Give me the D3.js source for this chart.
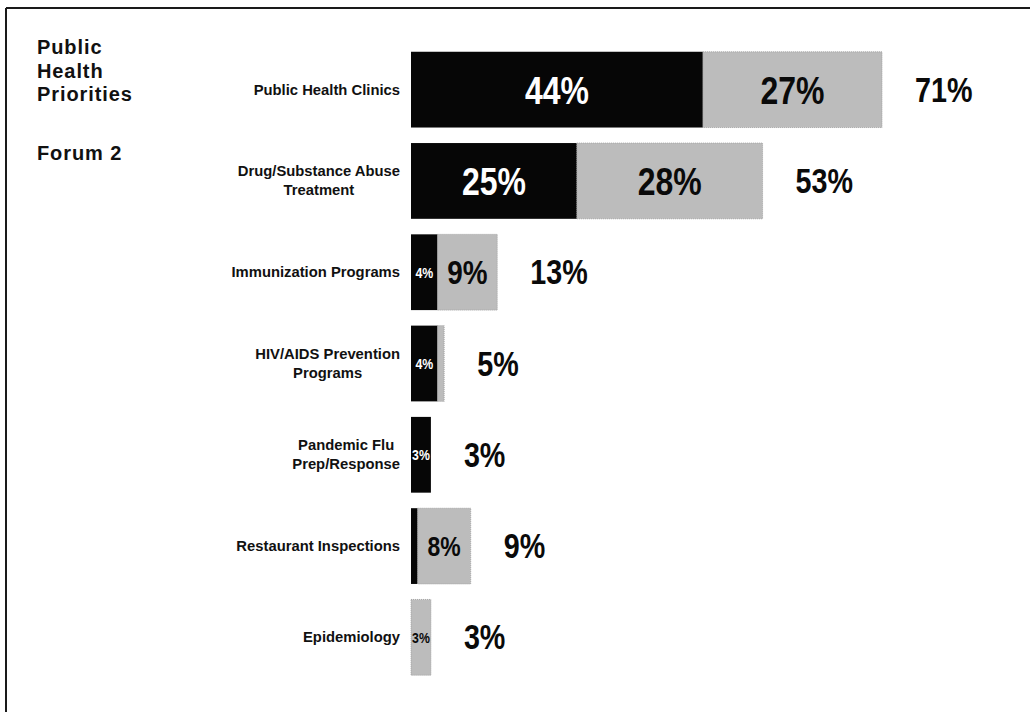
<!DOCTYPE html>
<html>
<head>
<meta charset="utf-8">
<script src="https://cdn.jsdelivr.net/npm/d3@7/dist/d3.min.js"></script>
<style>
  html, body { margin: 0; padding: 0; background: #fff; }
  svg { display: block; }
</style>
</head>
<body>
<svg id="chart" width="1030" height="712"></svg>
<script>
// ---- data ----
const titleLines = ["Public", "Health", "Priorities"];
const subtitle = "Forum 2";
const categories = [
  ["Public Health Clinics"],
  ["Drug/Substance Abuse", "Treatment"],
  ["Immunization Programs"],
  ["HIV/AIDS Prevention", "Programs"],
  ["Pandemic Flu", "Prep/Response"],
  ["Restaurant Inspections"],
  ["Epidemiology"]
];
const firstPriority  = [44, 25, 4, 4, 3, 1, 0];   // black segment
const secondPriority = [27, 28, 9, 1, 0, 8, 3];   // gray segment
const totals         = [71, 53, 13, 5, 3, 9, 3];

// ---- layout ----
const svg = d3.select("#chart");
const W = 1030, H = 712;
const keys = categories.map(c => c.join(" "));

const y = d3.scaleBand()
  .domain(keys)
  .range([44, 683])
  .paddingInner(0.17)
  .paddingOuter(0.085);

const x = d3.scaleLinear()
  .domain([0, 71])
  .range([411, 882]);

const sans = "'Liberation Sans', Arial, sans-serif";

// border (top and left visible)
svg.append("line").attr("x1", 6).attr("x2", W).attr("y1", 8).attr("y2", 8)
  .attr("stroke", "#1a1a1a").attr("stroke-width", 2);
svg.append("line").attr("x1", 6).attr("x2", 6).attr("y1", 8).attr("y2", H)
  .attr("stroke", "#1a1a1a").attr("stroke-width", 2);

// title (separate text elements per line)
titleLines.forEach((t, i) => {
  svg.append("text")
    .attr("x", 37).attr("y", 54 + i * 23.5)
    .attr("font-family", sans)
    .attr("font-weight", "bold")
    .attr("font-size", 20)
    .attr("letter-spacing", 0.9)
    .attr("fill", "#111")
    .text(t);
});
svg.append("text")
  .attr("x", 37).attr("y", 160)
  .attr("font-family", sans)
  .attr("font-weight", "bold")
  .attr("font-size", 20)
  .attr("letter-spacing", 0.9)
  .attr("fill", "#111")
  .text(subtitle);

// rows
const rows = categories.map((c, i) => ({
  key: keys[i], lines: c,
  a: firstPriority[i], b: secondPriority[i], t: totals[i]
}));

function labelSize(w) {
  if (w >= 100) return 39;
  if (w >= 55) return 34;
  if (w >= 45) return 28;
  return 15;
}

// narrow-looking text: horizontally condensed
function narrowText(parent, cx, by, fs, fill, txt, anchor) {
  const gg = parent.append("g")
    .attr("transform", `translate(${cx},${by}) scale(0.82,1)`);
  gg.append("text")
    .attr("x", 0).attr("y", 0)
    .attr("text-anchor", anchor)
    .attr("font-family", sans).attr("font-weight", "bold")
    .attr("font-size", fs).attr("fill", fill)
    .text(txt);
}

const g = svg.append("g");
rows.forEach(r => {
  const y0 = y(r.key), bh = y.bandwidth(), cy = y0 + bh / 2;

  // category label (centered lines, right edge at 400)
  const lines = r.lines;
  const lab = g.append("text")
    .attr("font-family", sans)
    .attr("font-weight", "bold")
    .attr("font-size", 14.8)
    .attr("fill", "#111")
    .attr("text-anchor", "middle");
  const lh = 19;
  const tspans = lines.map((ln, j) =>
    lab.append("tspan").attr("y", cy + 5 + (j - (lines.length - 1) / 2) * lh).text(ln));
  let maxW = 0;
  tspans.forEach(ts => { maxW = Math.max(maxW, ts.node().getComputedTextLength()); });
  tspans.forEach(ts => ts.attr("x", 400 - maxW / 2));

  // black segment
  if (r.a > 0) {
    g.append("rect")
      .attr("x", x(0)).attr("y", y0)
      .attr("width", x(r.a) - x(0)).attr("height", bh)
      .attr("fill", "#060606");
  }
  // gray segment
  if (r.b > 0) {
    g.append("rect")
      .attr("x", x(r.a)).attr("y", y0)
      .attr("width", x(r.a + r.b) - x(r.a)).attr("height", bh)
      .attr("fill", "#bcbcbc")
      .attr("stroke", "#9a9a9a").attr("stroke-width", 0.8).attr("stroke-dasharray", "1,1");
  }

  // segment labels
  if (r.a >= 3) {
    const w = x(r.a) - x(0);
    const fs = labelSize(w);
    narrowText(g, (x(0) + x(r.a)) / 2, cy + fs * 0.36, fs, "#fff", r.a + "%", "middle");
  }
  if (r.b >= 3) {
    const w = x(r.a + r.b) - x(r.a);
    const fs = labelSize(w);
    narrowText(g, (x(r.a) + x(r.a + r.b)) / 2, cy + fs * 0.36, fs, "#0a0a0a", r.b + "%", "middle");
  }

  // total
  narrowText(g, x(r.t) + 33, cy + 12, 35, "#0a0a0a", r.t + "%", "start");
});
</script>
</body>
</html>
